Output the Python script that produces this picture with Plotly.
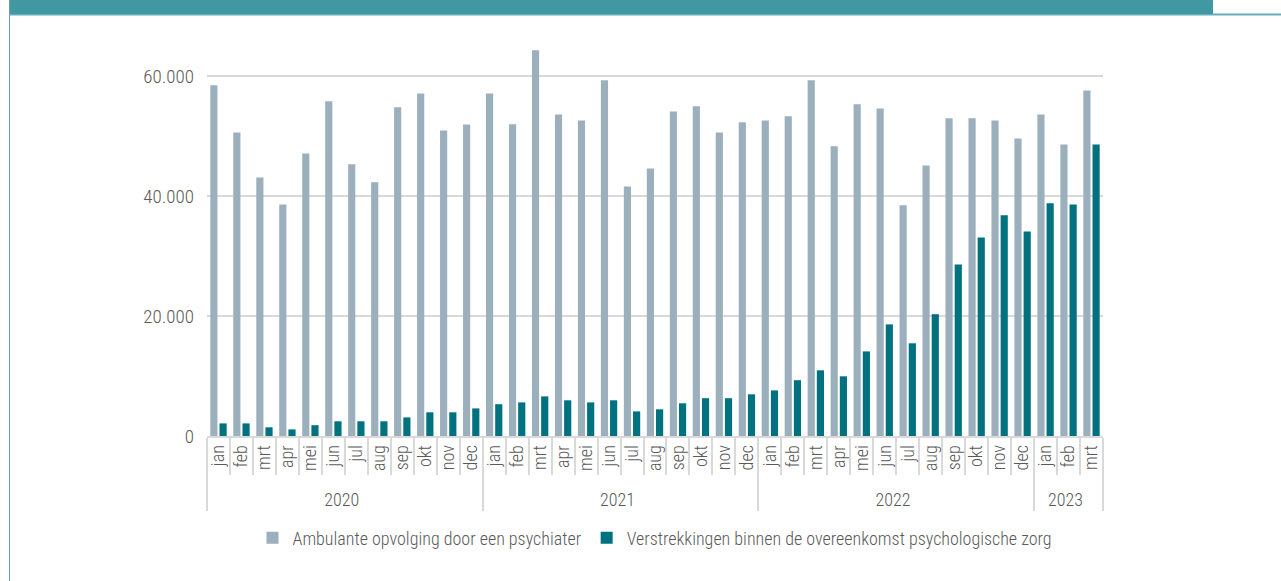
import plotly.graph_objects as go

# Months per year (hierarchical category axis)
years = ["2020"] * 12 + ["2021"] * 12 + ["2022"] * 12 + ["2023"] * 3
month_names = ["jan", "feb", "mrt", "apr", "mei", "jun", "jul", "aug", "sep", "okt", "nov", "dec"]
months = month_names * 3 + month_names[:3]

# Ambulante opvolging door een psychiater
psychiater = [
    58450, 50600, 43100, 38600, 47100, 55800, 45300, 42300, 54800, 57100, 50900, 51900,
    57100, 51950, 64300, 53600, 52600, 59300, 41600, 44600, 54100, 54950, 50600, 52300,
    52600, 53300, 59300, 48300, 55300, 54600, 38450, 45100, 52950, 52950, 52600, 49600,
    53600, 48600, 57600,
]

# Verstrekkingen binnen de overeenkomst psychologische zorg
psychologische_zorg = [
    2100, 2100, 1450, 1100, 1800, 2450, 2450, 2450, 3100, 3950, 3950, 4600,
    5300, 5600, 6600, 5950, 5600, 5950, 4100, 4450, 5450, 6300, 6300, 6950,
    7600, 9300, 10950, 9950, 14100, 18600, 15450, 20300, 28600, 33100, 36800, 34100,
    38800, 38600, 48600,
]

y_ticks = [0, 20000, 40000, 60000]

FONT = "Roboto Condensed, Liberation Sans Narrow, DejaVu Sans Condensed, Roboto, sans-serif"
TEXT = "#595959"
GRID = "#d9d9d9"

fig = go.Figure()
fig.add_trace(go.Bar(
    x=[years, months], y=psychiater,
    name="Ambulante opvolging door een psychiater",
    marker=dict(color="#9bb0bc", line=dict(width=0)),
))
fig.add_trace(go.Bar(
    x=[years, months], y=psychologische_zorg,
    name="Verstrekkingen binnen de overeenkomst psychologische zorg",
    marker=dict(color="#00717f", line=dict(width=0)),
))

# Page decoration: banner across the top, thin rule below it, left border line
L, R, T, B = 207, 178, 40, 145
W, H = 1281 - L - R, 581 - T - B


def px_x(p):
    return (p - L) / W


def px_y(p):
    return (581 - B - p) / H


shapes = [
    dict(type="line", xref="paper", yref="paper", x0=px_x(9), x1=px_x(1281),
         y0=px_y(14.5), y1=px_y(14.5), line=dict(color="#5fb2bc", width=2)),
    dict(type="rect", xref="paper", yref="paper", x0=px_x(9), x1=px_x(1213),
         y0=px_y(14), y1=px_y(0), fillcolor="#4197a2", line=dict(width=0)),
    dict(type="line", xref="paper", yref="paper", x0=px_x(9.5), x1=px_x(9.5),
         y0=px_y(581), y1=px_y(0), line=dict(color="#6b9ea6", width=1)),
]

fig.update_layout(
    width=1281, height=581,
    margin=dict(l=L, r=R, t=T, b=B),
    paper_bgcolor="white", plot_bgcolor="white",
    barmode="group", bargap=0.2, bargroupgap=0.22,
    separators=",.",
    font=dict(family=FONT, color=TEXT, size=16, weight=300),
    showlegend=True,
    legend=dict(
        orientation="h", x=0.5, xanchor="center", y=px_y(538), yanchor="middle",
        font=dict(size=18, color=TEXT, weight=300), itemwidth=30, traceorder="normal",
    ),
    shapes=shapes,
)

fig.update_yaxes(
    range=[0, 66000], tickvals=y_ticks, tickformat=",d",
    showgrid=True, gridcolor=GRID, gridwidth=2, zeroline=False, showline=False,
    tickfont=dict(size=19, color=TEXT, weight=300), ticklabelstandoff=12,
)
fig.update_xaxes(
    type="multicategory", tickangle=-90,
    showline=True, linecolor=GRID, linewidth=2,
    ticks="outside", ticklen=37, tickcolor=GRID, tickwidth=2,
    showdividers=True, dividercolor=GRID, dividerwidth=2,
    tickfont=dict(size=18, color=TEXT, weight=300),
)

fig.write_html("out.html")
